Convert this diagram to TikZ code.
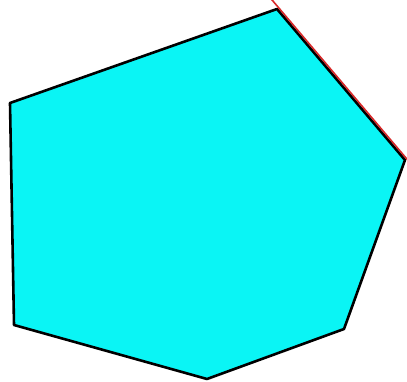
\documentclass[tikz,border=0pt]{standalone}
\usetikzlibrary{calc}
\definecolor{polyfill}{RGB}{10,245,245}
\definecolor{edgered}{RGB}{215,40,40}

\begin{document}
\begin{tikzpicture}[
  x=1pt, y=-1pt,
  poly/.style={draw=black, fill=polyfill, line width=2.6pt, line join=round},
  edge/.style={draw=edgered, line width=1.6pt}
]
\useasboundingbox (0,0) rectangle (407,382);

% --- Vertices ---
\coordinate (top) at (277,9);
\coordinate (right) at (405,160);
\coordinate (lowright) at (344,329);
\coordinate (bottom) at (207,379);
\coordinate (lowleft) at (14,325);
\coordinate (upleft) at (10,103);

% --- Polygon ---
\draw[poly] (top) -- (right) -- (lowright) -- (bottom) -- (lowleft) -- (upleft) -- cycle;

% --- Highlighted edge ---
\draw[edge] ($(top)!-0.07!(right)+(1.6,-1.3)$) -- ($(right)!-0.03!(top)+(1.6,-1.3)$);

\end{tikzpicture}
\end{document}
